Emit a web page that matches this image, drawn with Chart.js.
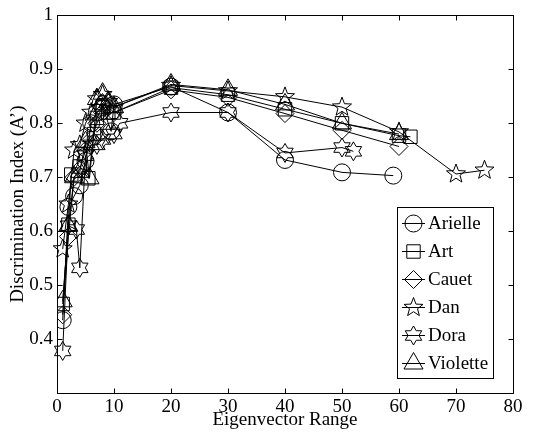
<!DOCTYPE html>
<html>
<head>
<meta charset="utf-8">
<script src="https://cdn.jsdelivr.net/npm/chart.js@4/dist/chart.umd.min.js"></script>
<style>
html,body{margin:0;padding:0;background:#fff;}
#wrap{position:relative;width:543px;height:436px;}
</style>
</head>
<body>
<div id="wrap"><canvas id="c" width="543" height="436"></canvas></div>
<script>
// ---- data ----
const seriesNames = ["Arielle", "Art", "Cauet", "Dan", "Dora", "Violette"];

const arielleX = [1, 2, 3, 4, 5, 6, 7, 8, 9.5, 10, 20, 30, 40, 50, 59];
const arielleY = [0.435, 0.645, 0.665, 0.685, 0.73, 0.80, 0.82, 0.83, 0.785, 0.835, 0.868, 0.82, 0.732, 0.709, 0.703];

const artX = [1, 2, 2.5, 4, 5.5, 6.5, 7, 8, 9, 10, 20, 30, 40, 50, 60, 62];
const artY = [0.465, 0.612, 0.705, 0.72, 0.698, 0.78, 0.81, 0.83, 0.82, 0.82, 0.866, 0.853, 0.826, 0.80, 0.777, 0.775];

const cauetX = [1, 2, 3, 4, 5, 6, 7, 8, 9, 10, 20, 30, 40, 50, 60];
const cauetY = [0.445, 0.59, 0.70, 0.715, 0.75, 0.77, 0.80, 0.82, 0.83, 0.82, 0.862, 0.848, 0.818, 0.787, 0.757];

const danX = [1, 2, 3, 4, 5, 6, 7, 8, 9, 10, 20, 30, 40, 50, 60, 70, 75];
const danY = [0.567, 0.65, 0.75, 0.76, 0.80, 0.82, 0.845, 0.853, 0.84, 0.83, 0.87, 0.86, 0.849, 0.83, 0.784, 0.706, 0.713];

const doraX = [1, 2, 3.4, 4, 5, 6, 7, 8, 9, 10, 11, 20, 30, 40, 50, 52];
const doraY = [0.378, 0.61, 0.603, 0.532, 0.74, 0.76, 0.76, 0.77, 0.78, 0.78, 0.80, 0.82, 0.82, 0.745, 0.755, 0.748];

const violetteX = [1, 2, 3, 4, 5, 5.7, 7, 8, 9, 10, 20, 30, 40, 50, 60];
const violetteY = [0.47, 0.61, 0.70, 0.71, 0.765, 0.698, 0.845, 0.855, 0.84, 0.83, 0.872, 0.862, 0.835, 0.80, 0.78];

const xTicks = [0, 10, 20, 30, 40, 50, 60, 70, 80];
const yTickLabels = ["", "0.4", "0.5", "0.6", "0.7", "0.8", "0.9", "1"];

// ---- marker drawing ----
function starPath(ctx, x, y, n, R, r) {
  ctx.beginPath();
  for (let i = 0; i < 2 * n; i++) {
    const a = -Math.PI / 2 + i * Math.PI / n;
    const rad = (i % 2 === 0) ? R : r;
    const px = x + rad * Math.cos(a), py = y + rad * Math.sin(a);
    if (i === 0) ctx.moveTo(px, py); else ctx.lineTo(px, py);
  }
  ctx.closePath();
  ctx.stroke();
}
const styles = [
  {ps: 'circle', r: 8.5},
  {ps: 'rect', r: 9.5},
  {ps: 'rectRot', r: 9},
  {star: [5, 10, 4.2]},
  {star: [6, 9.5, 5.5]},
  {ps: 'triangle', r: 11}
];
function drawMarker(ctx, i, x, y) {
  const s = styles[i];
  ctx.save();
  ctx.strokeStyle = '#000';
  ctx.lineWidth = 1;
  ctx.fillStyle = 'rgba(0,0,0,0)';
  if (s.star) starPath(ctx, x, y, s.star[0], s.star[1], s.star[2]);
  else Chart.helpers.drawPoint(ctx, {pointStyle: s.ps, radius: s.r, rotation: 0, borderWidth: 1}, x, y);
  ctx.restore();
}

const xs = [arielleX, artX, cauetX, danX, doraX, violetteX];
const ys = [arielleY, artY, cauetY, danY, doraY, violetteY];

const datasets = seriesNames.map((name, i) => ({
  label: name,
  data: xs[i].map((x, j) => ({x: x, y: ys[i][j]})),
  borderColor: '#000',
  backgroundColor: 'rgba(0,0,0,0)',
  borderWidth: 1,
  pointStyle: styles[i].ps || 'circle',
  pointRadius: styles[i].star ? 0 : styles[i].r,
  pointHoverRadius: styles[i].star ? 0 : styles[i].r,
  pointBorderColor: '#000',
  pointBackgroundColor: 'rgba(0,0,0,0)',
  pointBorderWidth: 1,
  tension: 0,
  fill: false
}));

const FONT = "'Liberation Serif', 'Times New Roman', serif";

const starPlugin = {
  id: 'stars',
  afterDatasetsDraw(chart) {
    const ctx = chart.ctx;
    chart.data.datasets.forEach((ds, i) => {
      if (!styles[i].star) return;
      chart.getDatasetMeta(i).data.forEach(pt => drawMarker(ctx, i, pt.x, pt.y));
    });
  }
};

const framePlugin = {
  id: 'frame',
  afterDraw(chart) {
    const {ctx, chartArea: a, scales} = chart;
    ctx.save();
    ctx.strokeStyle = '#000';
    ctx.lineWidth = 1;
    const L = Math.round(a.left) + 0.5, R = Math.round(a.right) + 0.5;
    const T = Math.round(a.top) + 0.5, B = Math.round(a.bottom) + 0.5;
    ctx.strokeRect(L, T, R - L, B - T);
    ctx.beginPath();
    scales.x.ticks.forEach(t => {
      const px = Math.round(scales.x.getPixelForValue(t.value)) + 0.5;
      ctx.moveTo(px, B); ctx.lineTo(px, B - 5);
      ctx.moveTo(px, T); ctx.lineTo(px, T + 5);
    });
    scales.y.ticks.forEach(t => {
      const py = Math.round(scales.y.getPixelForValue(t.value)) + 0.5;
      ctx.moveTo(L, py); ctx.lineTo(L + 5, py);
      ctx.moveTo(R, py); ctx.lineTo(R - 5, py);
    });
    ctx.stroke();

    // legend box
    const bx = 397.5, by = 207.5, bw = 96, bh = 171;
    ctx.fillStyle = '#fff';
    ctx.fillRect(bx, by, bw, bh);
    ctx.strokeRect(bx, by, bw, bh);
    ctx.font = '19px ' + FONT;
    ctx.textBaseline = 'middle';
    ctx.textAlign = 'left';
    seriesNames.forEach((name, i) => {
      const cy = 223 + i * 28;
      ctx.strokeStyle = '#000';
      ctx.beginPath();
      ctx.moveTo(402, cy + 0.5); ctx.lineTo(425, cy + 0.5);
      ctx.stroke();
      drawMarker(ctx, i, 413.5, cy + 0.5);
      ctx.fillStyle = '#000';
      ctx.fillText(name, 428, cy + 1);
    });
    ctx.restore();
  }
};

new Chart(document.getElementById('c'), {
  type: 'line',
  data: {datasets},
  options: {
    responsive: false,
    animation: false,
    devicePixelRatio: 1,
    layout: {padding: {top: 13, right: 30, left: 0, bottom: 0}},
    plugins: {legend: {display: false}, tooltip: {enabled: false}},
    scales: {
      x: {
        type: 'linear', min: 0, max: 80,
        afterBuildTicks: s => { s.ticks = xTicks.map(v => ({value: v})); },
        afterFit: s => { s.height = 43; },
        grid: {display: false, drawTicks: false},
        border: {display: false},
        ticks: {color: '#000', font: {family: FONT, size: 19}, padding: 3, maxRotation: 0},
        title: {display: true, text: 'Eigenvector Range', color: '#000', font: {family: FONT, size: 19}, padding: {top: 0, bottom: 5}}
      },
      y: {
        type: 'linear', min: 0.3, max: 1,
        afterBuildTicks: s => { s.ticks = yTickLabels.map((t, i) => ({value: 0.3 + i * 0.1})); },
        afterFit: s => { s.width = 57; },
        grid: {display: false, drawTicks: false},
        border: {display: false},
        ticks: {color: '#000', font: {family: FONT, size: 19}, padding: 4,
          callback: (v, i) => yTickLabels[i]},
        title: {display: true, text: 'Discrimination Index (A’)', color: '#000', font: {family: FONT, size: 19}, padding: {top: 7, bottom: 0}}
      }
    }
  },
  plugins: [starPlugin, framePlugin]
});
</script>
</body>
</html>
